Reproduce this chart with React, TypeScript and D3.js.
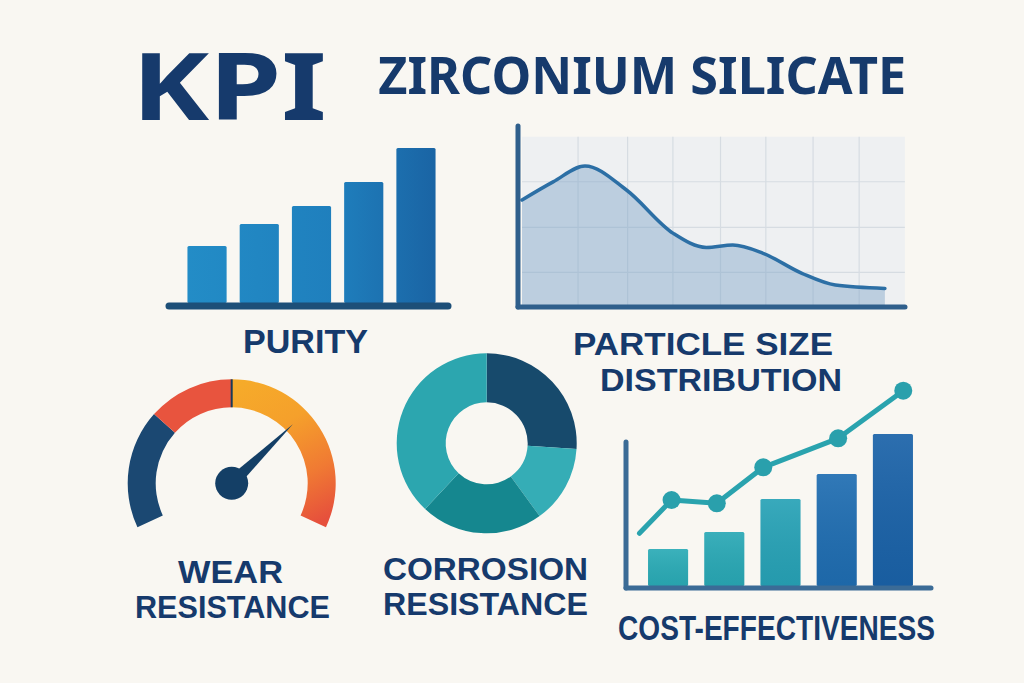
import React from "react";
import * as d3 from "d3";

// ---------- DATA ----------
const purityCategories = ["P1", "P2", "P3", "P4", "P5"];
const purityValues = [57, 79, 97, 121, 155];

const psdX = [0, 8.1, 16.4, 27.2, 39.4, 48, 54.9, 62.8, 72.9, 81.6, 94.5];
const psdY = [62.6, 73.3, 82.7, 68.5, 42.9, 34.6, 36.0, 31.1, 19.3, 12.4, 10.4];
const psdGridX = [14.6, 27.5, 39.3, 51.7, 63.5, 75.8, 87.8];
const psdGridY = [19.9, 46.5, 73.4];

const gaugeSegments = [
  { from: 0, to: 29, color: "#1b4872" },
  { from: 29, to: 50, color: "#e8543e" },
  { from: 50, to: 100, color: "url(#gaugeGrad)" },
];
const wearValue = 70;

const corrosionLabels = ["A", "B", "C", "D"];
const corrosionValues = [26, 14, 22, 38];
const corrosionColors = ["#174a6c", "#35adb6", "#15878f", "#2ca6af"];

const costCategories = ["C1", "C2", "C3", "C4", "C5"];
const costValues = [37, 54, 87, 112, 152];
const costColors = ["#2aabb6", "#29a8b5", "#27a2b6", "#1f6db1", "#1a62a8"];
const costLineX = [0.44, 1.49, 2.97, 4.49, 6.94, 9.07];
const costLineY = [52.7, 86, 82.7, 118.7, 147.7, 195.3];

const NAVY = "#163a6c";
const BG = "#f9f7f2";

// ---------- CHART ----------
export default function App() {
  // Purity
  const pX = d3.scaleBand<string>().domain(purityCategories).range([177, 446]).paddingInner(0.25).paddingOuter(0.2);
  const pY = d3.scaleLinear().domain([0, 160]).range([303, 143]);

  // Particle size distribution
  const sX = d3.scaleLinear().domain([0, 100]).range([522, 906]);
  const sY = d3.scaleLinear().domain([0, 100]).range([306, 136.7]);
  const psdPts: [number, number][] = psdX.map((x, i) => [x, psdY[i]]);
  const line = d3.line<[number, number]>().x((d) => sX(d[0])).y((d) => sY(d[1])).curve(d3.curveMonotoneX);
  const area = d3
    .area<[number, number]>()
    .x((d) => sX(d[0]))
    .y0(sY(0))
    .y1((d) => sY(d[1]))
    .curve(d3.curveMonotoneX);

  // Gauge
  const gcx = 231.7, gcy = 483.3;
  const gA = d3.scaleLinear().domain([0, 100]).range([(-115 * Math.PI) / 180, (115 * Math.PI) / 180]);
  const gArc = d3.arc<any>().innerRadius(76).outerRadius(104);
  const na = gA(wearValue);
  const nLen = 85, nW = 6.5;
  const tip = [gcx + nLen * Math.sin(na), gcy - nLen * Math.cos(na)];
  const b1 = [gcx + nW * Math.cos(na), gcy + nW * Math.sin(na)];
  const b2 = [gcx - nW * Math.cos(na), gcy - nW * Math.sin(na)];
  const divA = gA(50);

  // Donut
  const dcx = 486.7, dcy = 443.3;
  const pie = d3.pie<number>().sort(null).value((d) => d);
  const dArcs = pie(corrosionValues);
  const dArc = d3.arc<any>().innerRadius(41).outerRadius(90);

  // Cost
  const cX = d3.scaleBand<string>().domain(costCategories).range([640, 921]).paddingInner(0.287).paddingOuter(0.143);
  const cY = d3.scaleLinear().domain([0, 160]).range([586, 426]);
  const cLX = d3.scaleLinear().domain([0, 10]).range([626, 931.7]);
  const cPts: [number, number][] = costLineX.map((x, i) => [x, costLineY[i]]);
  const cLine = d3.line<[number, number]>().x((d) => cLX(d[0])).y((d) => cY(d[1]));

  const label = (t: string, x: number, y: number, w: number, fs: number, fam = "'Liberation Sans', Arial, sans-serif") => (
    <text
      x={x}
      y={y}
      fontSize={fs}
      fontWeight={700}
      fontFamily={fam}
      fill={NAVY}
      textLength={w}
      lengthAdjust="spacingAndGlyphs"
    >
      {t}
    </text>
  );
  const TITLE = "'Noto Sans', 'Open Sans', sans-serif";

  return (
    <svg
      width={1024}
      height={683}
      style={{ position: "absolute", left: 0, top: 0, display: "block" }}
    >
      <defs>
        <linearGradient id="purGrad" gradientUnits="userSpaceOnUse" x1={180} y1={0} x2={440} y2={0}>
          <stop offset="0" stopColor="#238dc7" />
          <stop offset="0.6" stopColor="#1f7fbd" />
          <stop offset="1" stopColor="#1a63a3" />
        </linearGradient>
        {/* coordinates relative to gauge centre (paths sit in translated group) */}
        <linearGradient id="gaugeGrad" gradientUnits="userSpaceOnUse" x1={10} y1={-102} x2={85} y2={40}>
          <stop offset="0" stopColor="#f6ab2a" />
          <stop offset="0.35" stopColor="#f5a02b" />
          <stop offset="0.7" stopColor="#f07a33" />
          <stop offset="1" stopColor="#e6503c" />
        </linearGradient>
        <linearGradient id="costBarGrad" x1="0" y1="0" x2="0" y2="1">
          <stop offset="0" stopColor="#ffffff" stopOpacity={0.08} />
          <stop offset="1" stopColor="#000000" stopOpacity={0.05} />
        </linearGradient>
      </defs>
      <rect x={0} y={0} width={1024} height={683} fill={BG} />

      {/* Titles */}
      {label("KPI", 131.7, 120, 195, 94, TITLE)}
      {label("ZIRCONIUM SILICATE", 378.3, 94, 528, 52, TITLE)}

      {/* Purity */}
      {purityValues.map((v, i) => (
        <rect
          key={i}
          x={pX(purityCategories[i])}
          y={pY(v)}
          width={pX.bandwidth()}
          height={pY(0) - pY(v)}
          fill="url(#purGrad)"
          rx={1.5}
        />
      ))}
      <line x1={169} x2={448} y1={306} y2={306} stroke="#1d4f78" strokeWidth={7} strokeLinecap="round" />
      {label("PURITY", 243, 353, 125, 33.5)}

      {/* Particle size distribution */}
      <rect x={sX(0)} y={sY(100)} width={sX(99.7) - sX(0)} height={sY(0) - sY(100)} fill="#eef0f2" />
      {psdGridX.map((g, i) => (
        <line key={"gx" + i} x1={sX(g)} x2={sX(g)} y1={sY(100)} y2={sY(0)} stroke="#d6dce2" strokeWidth={1.2} />
      ))}
      {psdGridY.map((g, i) => (
        <line key={"gy" + i} x1={sX(0)} x2={sX(99.7)} y1={sY(g)} y2={sY(g)} stroke="#d6dce2" strokeWidth={1.2} />
      ))}
      <path d={area(psdPts) || ""} fill="#7ea5c8" fillOpacity={0.45} />
      <path d={line(psdPts) || ""} fill="none" stroke="#2c6fa5" strokeWidth={3.5} strokeLinecap="round" />
      <line x1={518} x2={518} y1={126} y2={307} stroke="#2f5f8c" strokeWidth={5} strokeLinecap="round" />
      <line x1={518} x2={905} y1={307} y2={307} stroke="#2f5f8c" strokeWidth={5} strokeLinecap="round" />
      {label("PARTICLE SIZE", 573, 354.5, 260, 31)}
      {label("DISTRIBUTION", 600, 391, 242, 31)}

      {/* Gauge */}
      <g transform={`translate(${gcx},${gcy})`}>
        {gaugeSegments.map((s, i) => (
          <path key={i} d={gArc({ startAngle: gA(s.from), endAngle: gA(s.to) }) || ""} fill={s.color} />
        ))}
        <line
          x1={76 * Math.sin(divA)}
          y1={-76 * Math.cos(divA)}
          x2={104 * Math.sin(divA)}
          y2={-104 * Math.cos(divA)}
          stroke="#1b3a5a"
          strokeWidth={2}
        />
      </g>
      <path d={`M${b1[0]},${b1[1]} L${tip[0]},${tip[1]} L${b2[0]},${b2[1]} Z`} fill="#143f66" />
      <circle cx={gcx} cy={gcy} r={16.5} fill="#143f66" />
      {label("WEAR", 178, 582.5, 105, 31)}
      {label("RESISTANCE", 135, 617.5, 195, 31)}

      {/* Donut */}
      <g transform={`translate(${dcx},${dcy})`}>
        {dArcs.map((a, i) => (
          <path key={corrosionLabels[i]} d={dArc(a) || ""} fill={corrosionColors[i]} />
        ))}
      </g>
      {label("CORROSION", 383, 579.5, 205, 31)}
      {label("RESISTANCE", 383, 614.5, 205, 31)}

      {/* Cost-effectiveness */}
      {costValues.map((v, i) => (
        <g key={i}>
          <rect x={cX(costCategories[i])} y={cY(v)} width={cX.bandwidth()} height={cY(0) - cY(v)} fill={costColors[i]} rx={1.5} />
          <rect x={cX(costCategories[i])} y={cY(v)} width={cX.bandwidth()} height={cY(0) - cY(v)} fill="url(#costBarGrad)" rx={1.5} />
        </g>
      ))}
      <line x1={626} x2={626} y1={442} y2={588} stroke="#3b6b96" strokeWidth={5} strokeLinecap="round" />
      <line x1={626} x2={931} y1={588} y2={588} stroke="#3b6b96" strokeWidth={5} strokeLinecap="round" />
      <path d={cLine(cPts) || ""} fill="none" stroke="#2aa3ae" strokeWidth={5} strokeLinecap="round" strokeLinejoin="round" />
      {cPts.slice(1).map((p, i) => (
        <circle key={i} cx={cLX(p[0])} cy={cY(p[1])} r={9} fill="#2aa0ac" />
      ))}
      {label("COST-EFFECTIVENESS", 618, 640, 317, 35)}
    </svg>
  );
}
